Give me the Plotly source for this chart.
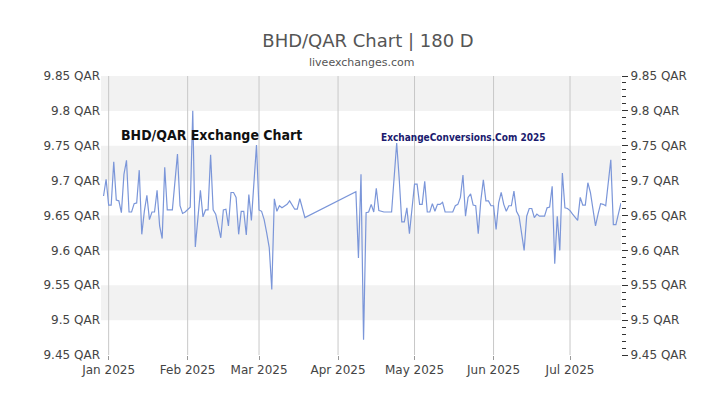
import plotly.graph_objects as go
import pandas as pd

days = [-2,-1,0,1,2,3,4,5,6,7,8,9,10,11,12,13,14,15,16,17,18,19,20,21,22,23,25,27,28,29,30,32,33,34,36,37,38,39,40,41,42,44,45,46,47,48,49,50,51,52,53,54,55,56,58,59,60,61,62,63,64,65,66,67,68,69,70,71,72,73,74,75,77,97,98,99,100,101,
        102,103,104,105,106,108,111,113,114,115,116,117,118,119,120,121,122,123,124,125,126,127,128,129,130,131,132,135,136,137,138,139,140,141,142,143,144,145,146,147,148,149,150,151,152,153,154,155,156,157,158,159,160,161,163,164,165,166,167,168,169,170,171,172,173,174,175,176,177,178,179,180,181,182,184,185,186,187,188,189,190,191,192,193,194,195,197,198,199,201]
values = [9.678,9.702,9.665,9.665,9.727,9.672,9.671,9.654,9.709,9.729,9.655,9.655,9.667,9.668,9.715,9.623,9.656,9.679,9.644,9.655,9.655,9.686,9.635,9.617,9.719,9.658,9.658,9.738,9.664,9.653,9.655,9.662,9.800,9.605,9.686,9.648,9.658,9.658,9.737,9.658,9.652,9.618,9.658,9.659,9.635,9.683,9.683,9.676,9.623,9.656,9.656,9.622,9.680,9.643,9.751,9.658,9.656,9.644,9.625,9.604,9.544,9.674,9.656,9.664,9.661,9.664,9.666,9.671,9.664,9.659,9.659,9.674,9.647,9.684,9.589,9.709,9.472,9.654,
          9.655,9.666,9.655,9.689,9.657,9.655,9.655,9.754,9.702,9.641,9.641,9.661,9.624,9.661,9.695,9.695,9.666,9.666,9.699,9.655,9.655,9.667,9.656,9.666,9.666,9.669,9.655,9.655,9.664,9.666,9.676,9.708,9.649,9.676,9.681,9.665,9.664,9.624,9.671,9.701,9.671,9.671,9.664,9.664,9.630,9.668,9.683,9.666,9.656,9.664,9.664,9.685,9.656,9.649,9.600,9.649,9.660,9.660,9.647,9.652,9.649,9.649,9.649,9.661,9.662,9.692,9.581,9.649,9.600,9.711,9.661,9.660,9.657,9.652,9.643,9.676,9.665,9.665,9.697,9.683,9.661,9.635,9.652,9.667,9.666,9.664,9.730,9.637,9.637,9.668]
dates = pd.Timestamp("2025-01-01") + pd.to_timedelta(days, unit="D")

yticks = [9.45,9.5,9.55,9.6,9.65,9.7,9.75,9.8,9.85]
ylabels = [f"{v:g} QAR" for v in yticks]
months = ["2025-01-01","2025-02-01","2025-03-01","2025-04-01","2025-05-01","2025-06-01","2025-07-01"]
mlabels = ["Jan 2025","Feb 2025","Mar 2025","Apr 2025","May 2025","Jun 2025","Jul 2025"]

fig = go.Figure()
fig.add_trace(go.Scatter(x=dates, y=values, mode="lines", line=dict(color="#7b96d9", width=1.2)))
fig.add_trace(go.Scatter(x=dates, y=values, mode="lines", line=dict(width=0), yaxis="y2", showlegend=False, hoverinfo="skip"))

shapes = []
for i in range(len(yticks)-1):
    if i % 2 == 1:
        shapes.append(dict(type="rect", xref="paper", yref="y", x0=0, x1=1, y0=yticks[i], y1=yticks[i+1],
                           fillcolor="#f2f2f2", line_width=0, layer="below"))
for m in months:
    shapes.append(dict(type="line", xref="x", yref="paper", x0=m, x1=m, y0=0, y1=1,
                       line=dict(color="#c8c8c8", width=1), layer="below"))

fig.update_layout(
    width=720, height=405, margin=dict(l=93, r=107, t=68, b=58),
    paper_bgcolor="white", plot_bgcolor="white", showlegend=False, shapes=shapes,
    font=dict(family="DejaVu Sans", color="#444"),
    title=dict(text="BHD/QAR Chart | 180 D", x=0.5, y=0.935, xanchor="center", font=dict(size=18, color="#555")),
    xaxis=dict(range=["2024-12-29", "2025-07-21"], tickvals=months, ticktext=mlabels, showgrid=False,
               ticks="outside", ticklen=4, tickcolor="#999", tickfont=dict(size=12, color="#444"), zeroline=False),
    yaxis=dict(range=[9.45, 9.85], tickvals=yticks, ticktext=ylabels, showgrid=False, zeroline=False,
               tickfont=dict(size=12, color="#444"), ticks="", ticklen=4),
    yaxis2=dict(range=[9.45, 9.85], tickvals=yticks, ticktext=ylabels, overlaying="y", side="right",
                showgrid=False, zeroline=False, tickfont=dict(size=12, color="#444"),
                ticks="outside", ticklen=6, tickcolor="#333",
                minor=dict(dtick=0.01, tick0=9.45, ticks="outside", ticklen=4, tickcolor="#333")),
    annotations=[
        dict(text="liveexchanges.com", xref="paper", yref="paper", x=0.5, y=1.08, showarrow=False,
             font=dict(size=11, color="#555")),
        dict(text="<b>BHD/QAR Exchange Chart</b>", xref="paper", yref="paper", x=0.035, y=0.825, xanchor="left",
             showarrow=False, font=dict(family="DejaVu Sans Condensed", size=14, color="#111")),
        dict(text="<b>ExchangeConversions.Com 2025</b>", xref="paper", yref="paper", x=0.535, y=0.807, xanchor="left",
             showarrow=False, font=dict(family="DejaVu Sans Condensed", size=10, color="#1a1a6e")),
    ],
)
fig.write_html("out.html")
